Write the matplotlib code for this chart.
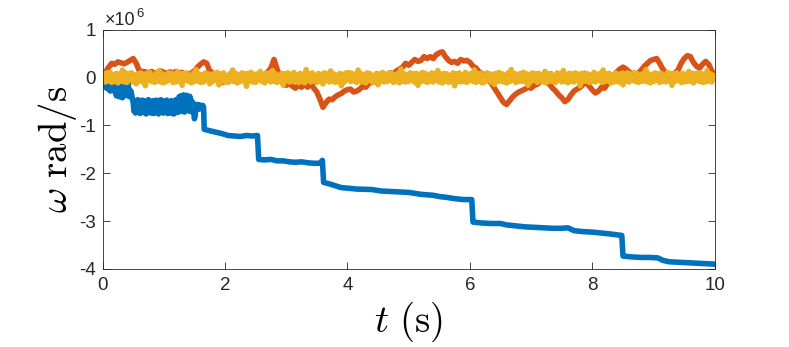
import numpy as np
import matplotlib
matplotlib.use("Agg")
import matplotlib.pyplot as plt
from matplotlib.ticker import FuncFormatter

plt.rcParams['font.family'] = ['Liberation Sans', 'DejaVu Sans']
plt.rcParams['axes.unicode_minus'] = False

# angular speed, in units of 1e6 rad/s

# series 1 (blue): noisy start (every 0.0125 s), then staircase
t_blue_start = np.linspace(0, 1.65, 133)
w_blue_start = [0.00, -0.10, -0.04, -0.18, -0.08, -0.22, -0.06, -0.16,
                -0.24, -0.08, -0.28, -0.12, -0.20, -0.06, -0.26, -0.14,
                -0.30, -0.18, -0.38, -0.22, -0.34, -0.16, -0.40, -0.24, -0.36, -0.20, -0.42, -0.26,
                -0.32, 0.10, -0.30, -0.20, -0.38, 0.06, -0.34, -0.24, -0.40, -0.28, -0.36, -0.44,
                -0.52, -0.70, -0.48, -0.74, -0.55, -0.68, -0.46, -0.72, -0.58, -0.75,
                -0.50, -0.66, -0.47, -0.73, -0.54, -0.70, -0.49, -0.76, -0.57, -0.67,
                -0.46, -0.72, -0.52, -0.74, -0.60, -0.69, -0.48, -0.75, -0.53, -0.71,
                -0.47, -0.68, -0.56, -0.76, -0.50, -0.72, -0.46, -0.70, -0.58, -0.74,
                -0.49, -0.73, -0.54, -0.68, -0.47, -0.75, -0.52, -0.70, -0.60, -0.74,
                -0.48, -0.71, -0.55, -0.76, -0.50, -0.69, -0.46, -0.73, -0.57, -0.72,
                -0.40, -0.66, -0.38, -0.70, -0.45, -0.64, -0.36, -0.72, -0.42, -0.68,
                -0.37, -0.62, -0.44, -0.70, -0.39, -0.66, -0.48, -0.72, -0.52, -0.70,
                -0.86, -0.80, -0.58, -0.64, -0.56, -0.66, -0.60, -0.57, -0.65, -0.59,
                -0.63, -0.58, -0.62]
t_blue_steps = [1.66, 1.75, 1.85, 1.95, 2.05, 2.15, 2.25, 2.35, 2.45, 2.53,
                2.55, 2.65, 2.75, 2.85, 2.95, 3.05, 3.15, 3.25, 3.35, 3.45,
                3.55, 3.59, 3.61, 3.7, 3.8, 3.9, 4.0, 4.15, 4.4, 4.55,
                4.7, 4.85, 5.0, 5.2, 5.4, 5.52, 5.6, 5.75, 5.9, 6.03,
                6.05, 6.2, 6.35, 6.5, 6.6, 6.75, 6.9, 7.05, 7.2, 7.35,
                7.5, 7.6, 7.7, 7.85, 8.0, 8.15, 8.3, 8.48, 8.5, 8.65,
                8.8, 8.95, 9.07, 9.15, 9.25, 9.4, 9.55, 9.7, 9.85, 10.0]
w_blue_steps = [-1.08, -1.11, -1.14, -1.17, -1.21, -1.22, -1.23, -1.21, -1.22, -1.21,
                -1.71, -1.72, -1.71, -1.74, -1.74, -1.76, -1.77, -1.76, -1.78, -1.79,
                -1.79, -1.73, -2.19, -2.22, -2.26, -2.30, -2.31, -2.33, -2.34, -2.37,
                -2.38, -2.39, -2.40, -2.44, -2.46, -2.49, -2.50, -2.53, -2.55, -2.55,
                -3.02, -3.04, -3.05, -3.05, -3.08, -3.10, -3.12, -3.13, -3.14, -3.15,
                -3.15, -3.14, -3.20, -3.22, -3.23, -3.25, -3.27, -3.30, -3.73, -3.75,
                -3.76, -3.76, -3.77, -3.82, -3.85, -3.86, -3.87, -3.88, -3.89, -3.90]

# series 2 (red), every 0.05 s
w_red = [0.00, 0.12, 0.22, 0.30, 0.28, 0.33, 0.31, 0.29, 0.32, 0.36,
         0.40, 0.30, 0.14, 0.13, 0.12, 0.10, 0.13, 0.09, 0.11, 0.14,
         0.11, 0.09, 0.12, 0.10, 0.13, 0.10, 0.11, 0.05, 0.06, 0.10,
         0.14, 0.22, 0.28, 0.33, 0.30, 0.14, 0.10, 0.04, -0.05, -0.10,
         -0.08, 0.00, 0.04, -0.02, 0.06, 0.02, -0.06, 0.00, 0.05, 0.01,
         0.04, 0.08, 0.03, 0.07, 0.12, 0.20, 0.38, 0.18, 0.02, -0.12,
         -0.16, -0.12, -0.18, -0.22, -0.16, -0.20, -0.14, -0.20, -0.12, -0.22,
         -0.30, -0.45, -0.62, -0.52, -0.45, -0.46, -0.40, -0.36, -0.33, -0.28,
         -0.25, -0.24, -0.30, -0.28, -0.24, -0.18, -0.20, -0.12, -0.10, -0.04,
         -0.06, 0.00, 0.02, 0.06, 0.10, 0.08, 0.14, 0.18, 0.22, 0.30,
         0.26, 0.32, 0.38, 0.34, 0.36, 0.44, 0.40, 0.44, 0.40, 0.48,
         0.52, 0.54, 0.44, 0.36, 0.32, 0.34, 0.30, 0.38, 0.35, 0.36,
         0.32, 0.24, 0.20, 0.12, 0.08, 0.02, -0.04, -0.12, -0.22, -0.32,
         -0.42, -0.52, -0.56, -0.48, -0.40, -0.34, -0.30, -0.27, -0.24, -0.20,
         -0.22, -0.16, -0.14, -0.08, -0.05, -0.10, -0.14, -0.22, -0.28, -0.36,
         -0.42, -0.50, -0.46, -0.36, -0.28, -0.24, -0.20, -0.14, -0.10, -0.18,
         -0.26, -0.32, -0.28, -0.20, -0.22, -0.12, -0.05, 0.04, 0.12, 0.18,
         0.22, 0.18, 0.12, 0.08, 0.05, 0.10, 0.16, 0.24, 0.30, 0.36,
         0.38, 0.40, 0.30, 0.18, 0.10, 0.04, 0.06, 0.10, 0.16, 0.30,
         0.40, 0.46, 0.44, 0.32, 0.24, 0.20, 0.28, 0.34, 0.28, 0.14,
         0.05]

# series 3 (yellow), every 0.025 s
w_yellow = [0.00, 0.08, -0.09, 0.10, -0.07, 0.11, -0.10, 0.05, -0.08, 0.09,
            -0.11, 0.07, -0.05, 0.16, -0.09, 0.08, -0.10, 0.09, -0.04, 0.10,
            -0.09, 0.05, -0.13, 0.08, -0.07, 0.10, -0.09, 0.07, -0.17, 0.09,
            -0.05, 0.11, -0.08, 0.04, -0.10, 0.09, -0.07, 0.15, -0.09, 0.08,
            -0.11, 0.05, -0.08, 0.10, -0.04, 0.09, -0.10, 0.07, -0.09, 0.13,
            -0.07, 0.08, -0.16, 0.09, -0.05, 0.10, -0.08, 0.04, -0.11, 0.09,
            -0.08, 0.17, -0.07, 0.08, -0.10, 0.05, -0.09, 0.10, -0.04, 0.08,
            -0.13, 0.07, -0.08, 0.09, -0.05, 0.11, -0.15, 0.08, -0.07, 0.10,
            -0.09, 0.04, -0.10, 0.08, -0.07, 0.16, -0.08, 0.09, -0.11, 0.05,
            -0.08, 0.10, -0.05, 0.08, -0.18, 0.09, -0.07, 0.11, -0.09, 0.07,
            -0.10, 0.08, -0.04, 0.13, -0.08, 0.07, -0.11, 0.09, -0.05, 0.10,
            -0.09, 0.15, -0.07, 0.08, -0.10, 0.04, -0.08, 0.09, -0.16, 0.08,
            -0.05, 0.10, -0.09, 0.07, -0.08, 0.11, -0.07, 0.05, -0.10, 0.09,
            -0.08, 0.07, -0.11, 0.17, -0.05, 0.08, -0.09, 0.10, -0.07, 0.04,
            -0.10, 0.09, -0.08, 0.07, -0.13, 0.10, -0.05, 0.08, -0.09, 0.14,
            -0.07, 0.08, -0.10, 0.05, -0.08, 0.09, -0.17, 0.07, -0.09, 0.10,
            -0.04, 0.11, -0.08, 0.09, -0.07, 0.05, -0.10, 0.16, -0.08, 0.08,
            -0.09, 0.07, -0.11, 0.10, -0.05, 0.08, -0.09, 0.04, -0.10, 0.09,
            -0.15, 0.08, -0.07, 0.11, -0.09, 0.07, -0.08, 0.10, -0.05, 0.09,
            -0.10, 0.05, -0.08, 0.09, -0.11, 0.18, -0.07, 0.08, -0.09, 0.07,
            -0.08, 0.10, -0.05, 0.08, -0.10, 0.09, -0.16, 0.07, -0.08, 0.11,
            -0.07, 0.09, -0.10, 0.05, -0.08, 0.10, -0.09, 0.08, -0.05, 0.15,
            -0.09, 0.07, -0.11, 0.09, -0.07, 0.08, -0.10, 0.04, -0.08, 0.10,
            -0.17, 0.08, -0.07, 0.10, -0.09, 0.05, -0.08, 0.11, -0.10, 0.07,
            -0.05, 0.09, -0.08, 0.16, -0.10, 0.08, -0.07, 0.09, -0.11, 0.05,
            -0.09, 0.10, -0.04, 0.08, -0.10, 0.07, -0.14, 0.09, -0.08, 0.11,
            -0.07, 0.08, -0.09, 0.05, -0.11, 0.10, -0.08, 0.17, -0.05, 0.09,
            -0.10, 0.07, -0.08, 0.09, -0.07, 0.11, -0.09, 0.08, -0.16, 0.07,
            -0.08, 0.10, -0.05, 0.08, -0.10, 0.09, -0.07, 0.05, -0.09, 0.13,
            -0.11, 0.08, -0.07, 0.09, -0.08, 0.04, -0.10, 0.10, -0.05, 0.08,
            -0.09, 0.15, -0.08, 0.07, -0.11, 0.09, -0.07, 0.08, -0.09, 0.10,
            -0.05, 0.07, -0.17, 0.09, -0.08, 0.10, -0.07, 0.08, -0.10, 0.05,
            -0.08, 0.11, -0.09, 0.07, -0.05, 0.09, -0.10, 0.16, -0.08, 0.08,
            -0.07, 0.09, -0.11, 0.05, -0.09, 0.10, -0.08, 0.07, -0.10, 0.09,
            -0.15, 0.08, -0.07, 0.10, -0.09, 0.07, -0.05, 0.11, -0.08, 0.09,
            -0.10, 0.05, -0.08, 0.09, -0.07, 0.17, -0.09, 0.08, -0.11, 0.07,
            -0.08, 0.10, -0.05, 0.08, -0.10, 0.09, -0.07, 0.04, -0.09, 0.11,
            -0.07, 0.09, -0.16, 0.08, -0.08, 0.10, -0.05, 0.07, -0.10, 0.09,
            -0.09, 0.07, -0.08, 0.13, -0.07, 0.09, -0.11, 0.08, -0.05, 0.10,
            -0.08, 0.09, -0.10, 0.07, -0.09, 0.15, -0.07, 0.08, -0.09, 0.05,
            0.00]

x_ticks = [0, 2, 4, 6, 8, 10]
y_ticks = [-4, -3, -2, -1, 0, 1]
y_scale = 1e6

colors = ['#0072BD', '#D95319', '#EDB120']


def main():
    t_blue = np.concatenate([t_blue_start, t_blue_steps])
    w_blue = np.concatenate([w_blue_start, w_blue_steps]) * y_scale
    t_red = np.linspace(0, 10, len(w_red))
    t_yellow = np.linspace(0, 10, len(w_yellow))

    fig = plt.figure(figsize=(7.89, 3.47), dpi=100)
    ax = fig.add_axes([0.130, 0.225, 0.776, 0.689])

    lw = 4.0
    ax.plot(t_blue, w_blue, color=colors[0], linewidth=lw)
    ax.plot(t_red, np.array(w_red) * y_scale, color=colors[1], linewidth=lw)
    ax.plot(t_yellow, np.array(w_yellow) * y_scale, color=colors[2], linewidth=lw)

    ax.set_xlim(0, 10)
    ax.set_ylim(-4 * y_scale, 1 * y_scale)
    ax.set_xticks(x_ticks)
    ax.set_yticks([v * y_scale for v in y_ticks])
    ax.yaxis.set_major_formatter(FuncFormatter(lambda v, p: "%g" % (v / y_scale)))

    ax.tick_params(direction='in', top=True, right=True, length=5,
                   width=0.6, color='#262626', labelsize=13.5,
                   labelcolor='#262626')
    ax.tick_params(axis='x', pad=6)
    ax.tick_params(axis='y', pad=5)
    for sp in ax.spines.values():
        sp.set_color('#262626')
        sp.set_linewidth(0.6)

    # exponent label above the y axis, as MATLAB draws it
    ax.annotate('\u00d710', xy=(0, 1), xycoords='axes fraction',
                xytext=(1.5, 3.5), textcoords='offset points',
                ha='left', va='baseline', fontsize=13, color='#262626')
    ax.annotate('6', xy=(0, 1), xycoords='axes fraction',
                xytext=(24.5, 9.5), textcoords='offset points',
                ha='left', va='baseline', fontsize=9.5, color='#262626')

    ax.set_xlabel(r'$t\ \mathrm{(s)}$', fontsize=28, math_fontfamily='cm',
                  labelpad=4)
    ax.set_ylabel(r'$\omega\ \mathrm{rad/s}$', fontsize=28,
                  math_fontfamily='cm', labelpad=0)

    fig.savefig('out.png', dpi=100)


if __name__ == "__main__":
    main()
